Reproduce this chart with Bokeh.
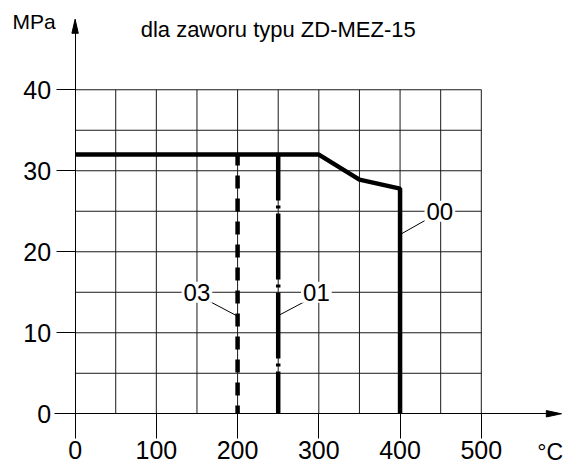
from bokeh.plotting import figure
from bokeh.models import FixedTicker, ColumnDataSource, Label
from bokeh.embed import file_html
from bokeh.resources import INLINE
from bokeh.core.properties import value

# ---- data ----
curve00_t = [0, 300, 350, 400, 400]
curve00_p = [32, 32, 28.9, 27.8, 0]
line01_t = [250, 250]
line01_p = [32, 0]
line03_t = [200, 200]
line03_p = [32, 0]

x_ticks = [0, 100, 200, 300, 400, 500]
y_ticks = [0, 10, 20, 30, 40]
grid_t = [50, 100, 150, 200, 250, 300, 350, 400, 450, 500]
grid_p = [5, 10, 15, 20, 25, 30, 35, 40]

label_names = ["03", "01", "00"]
label_t = [150, 297, 449]
label_p = [15, 15, 25]
leader_t0 = [165, 283.6, 431.4]
leader_p0 = [13.9, 13.9, 23.9]
leader_t1 = [198, 250.7, 400.5]
leader_p1 = [12.15, 12.15, 22.15]

title_text = "dla zaworu typu ZD-MEZ-15"
y_unit = "MPa"
x_unit = "°C"

FONT = "Liberation Sans"

# ---- figure ----
W, H = 567, 466
X0, X1 = -91.83, 606.1
Y0, Y1 = -6.51, 51.02
px_x = W / (X1 - X0)
px_y = H / (Y1 - Y0)

p = figure(width=W, height=H, x_range=(X0, X1), y_range=(Y0, Y1),
           output_backend="svg", toolbar_location=None, min_border=0)
p.min_border_left = p.min_border_right = p.min_border_top = p.min_border_bottom = 0
p.outline_line_color = None
p.grid.visible = False
p.background_fill_color = "white"
p.border_fill_color = "white"

# axes at fixed data locations
X_END = 598.5
Y_END = 48.7
xa = p.xaxis[0]
xa.fixed_location = 0
xa.ticker = FixedTicker(ticks=x_ticks)
xa.bounds = (-25.4, X_END)
xa.major_tick_out = 25
xa.major_tick_in = 0
xa.minor_tick_out = 0
xa.minor_tick_in = 0
xa.axis_line_color = "black"
xa.major_tick_line_color = "black"
xa.major_label_text_font = FONT
xa.major_label_text_font_size = "25px"
xa.major_label_text_color = "black"
xa.major_label_standoff = 2

ya = p.yaxis[0]
ya.fixed_location = 0
ya.ticker = FixedTicker(ticks=y_ticks)
ya.bounds = (0, Y_END)
ya.major_tick_out = 19
ya.major_tick_in = 0
ya.minor_tick_out = 0
ya.minor_tick_in = 0
ya.axis_line_color = "black"
ya.major_tick_line_color = "black"
ya.major_label_text_font = FONT
ya.major_label_text_font_size = "25px"
ya.major_label_text_color = "black"
ya.major_label_standoff = 5

# grid
p.segment(x0=grid_t, y0=0, x1=grid_t, y1=max(y_ticks), line_color="#1a1a1a", line_width=1)
p.segment(x0=0, y0=grid_p, x1=max(x_ticks), y1=grid_p, line_color="#1a1a1a", line_width=1)

# arrow heads
AL, AW = 15, 3.2
p.patch(x=[X_END, X_END - AL / px_x, X_END - AL / px_x], y=[0, AW / px_y, -AW / px_y], color="black")
AL2, AW2 = 14, 3.2
p.patch(x=[0, AW2 / px_x, -AW2 / px_x], y=[Y_END, Y_END - AL2 / px_y, Y_END - AL2 / px_y], color="black")

# leaders
p.segment(x0=leader_t0, y0=leader_p0, x1=leader_t1, y1=leader_p1, line_color="black", line_width=1)

# curves
p.line(line03_t, line03_p, line_color="black", line_width=4.5, line_dash="13 10", line_dash_offset=2)
p.line(line01_t, line01_p, line_color="black", line_width=4.5, line_dash="66 5 3 5", line_dash_offset=20)
p.line(curve00_t, curve00_p, line_color="black", line_width=4.5)

# labels
src = ColumnDataSource(dict(t=label_t, p=label_p, name=label_names))
p.text(x="t", y="p", text="name", source=src, text_font=value(FONT), text_font_size="24px",
       text_align="center", text_baseline="middle", text_color="black",
       background_fill_color="white", padding=2)

p.add_layout(Label(x=250, y=47.5, text=title_text, text_font=FONT, text_font_size="22px",
                   text_align="center", text_baseline="alphabetic", text_color="black"))
p.add_layout(Label(x=-77, y=48.4, text=y_unit, text_font=FONT, text_font_size="21px",
                   text_align="left", text_baseline="alphabetic", text_color="black"))
p.add_layout(Label(x=569.0, y=-4.7, text=x_unit, text_font=FONT, text_font_size="23px",
                   text_align="left", text_baseline="alphabetic", text_color="black"))

open("out.html", "w").write(file_html(p, INLINE))
